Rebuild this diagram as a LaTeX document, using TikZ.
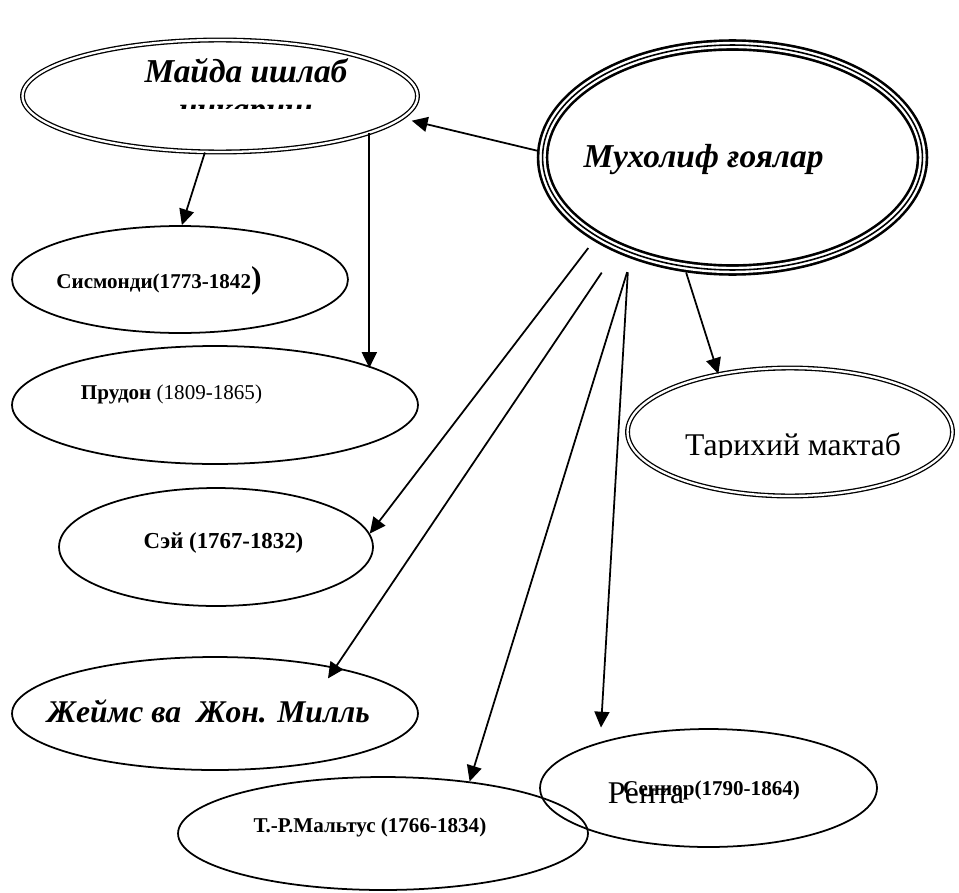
\documentclass[tikz,border=0pt]{standalone}
\usepackage{fontspec}
\setmainfont{Liberation Serif}
\usetikzlibrary{shapes.geometric,arrows.meta}

\begin{document}
\begin{tikzpicture}[x=0.02cm,y=-0.02cm,
  oval/.style={draw,ellipse,line width=1pt,inner sep=0pt},
  dbl/.style={oval,line width=0.75pt,double,double distance=1.3pt},
  tri/.style={oval,line width=6.6pt,postaction={draw=white,line width=3.6pt},postaction={draw=black,line width=0.9pt}},
  arr/.style={-{Triangle[length=9pt,width=8.5pt]},line width=1pt},
  bigbi/.style={anchor=base,font=\fontsize{19}{22}\selectfont\bfseries\itshape},
  smallb/.style={anchor=base,font=\fontsize{12}{14}\selectfont\bfseries},
  bigr/.style={anchor=base,font=\fontsize{18}{21}\selectfont}]

\useasboundingbox (0,0) rectangle (959,892);

\node[dbl,minimum width=7.9cm,minimum height=2.24cm] (maida) at (220,96) {};
\node[tri,minimum width=7.6cm,minimum height=4.5cm] (muxolif) at (732.5,157.5) {};
\node[oval,minimum width=6.72cm,minimum height=2.14cm] (sism) at (180,279.5) {};
\node[oval,minimum width=8.12cm,minimum height=2.36cm] (prud) at (215,405) {};
\node[dbl,minimum width=6.5cm,minimum height=2.56cm] (tarix) at (790,432) {};
\node[oval,minimum width=6.28cm,minimum height=2.36cm] (sey) at (216,547) {};
\node[oval,minimum width=8.12cm,minimum height=2.26cm] (mill) at (215,713.5) {};
\node[oval,minimum width=8.2cm,minimum height=2.26cm] (malt) at (383,833.5) {};
\node[oval,minimum width=6.74cm,minimum height=2.36cm] (senior) at (708.5,788) {};

%texts
\node[bigbi] (maidaT) at (246,83) {Майда ишлаб};
\begin{scope}
\clip (150,104) rectangle (350,108.5);
\node[bigbi] (maidaT2) at (246,120) {чиқариш};
\end{scope}
\node[bigbi] (muxolifT) at (703.5,167) {Мухолиф ғоялар};
\node[smallb] (sismT) at (159,288) {Сисмонди(1773-1842{\fontsize{18}{20}\selectfont)}};
\node[smallb] (prudT) at (171.5,399) {Прудон \mdseries(1809-1865)};
\begin{scope}
\clip (600,380) rectangle (959,457);
\node[bigr] (tarixT) at (793,455) {Тарихий мактаб};
\end{scope}
\node[smallb,font=\fontsize{13}{15}\selectfont\bfseries] (seyT) at (223.5,548) {Сэй (1767-1832)};
\node[bigbi,font=\fontsize{18}{21}\selectfont\bfseries\itshape] (millT) at (208.5,722) {Жеймс ва\ \ Жон. Милль};
\node[smallb] (maltT) at (370,832) {Т.-Р.Мальтус (1766-1834)};
\node[smallb] (seniorT) at (711.5,795) {Сениор(1790-1864)};
\node[bigr] (renta) at (646,803) {Рента};

%arrows
\draw[arr,shorten >=0.2cm] (muxolif.178) -- (maida.-7);
\draw[arr] (maida.255) -- (sism.88);
\draw[arr] (maida.-14) -- (maida.-14 |- prud.13);
\draw[arr,shorten <=0.18cm] (muxolif.211) -- (sey.5);
\draw[arr,shorten <=0.49cm,shorten >=-0.27cm] (muxolif.219) -- (mill.21);
\draw[arr,shorten <=0.28cm] (muxolif.225) -- (malt.31);
\draw[arr,shorten <=0.29cm,shorten >=0.29cm] (muxolif.224) -- (senior.157);
\draw[arr] (muxolif.-112) -- (tarix.141);
\end{tikzpicture}
\end{document}
